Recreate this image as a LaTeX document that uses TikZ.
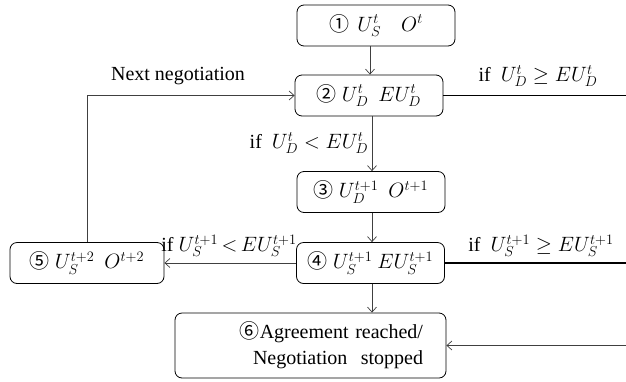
\documentclass[tikz,border=0pt]{standalone}
\usepackage{fontspec}
\setmainfont{Liberation Serif}
\newfontfamily\cjk{Noto Sans CJK SC}
\usetikzlibrary{arrows.meta}
\newcommand{\cn}[1]{{\cjk #1}}
\begin{document}
\begin{tikzpicture}[x=1pt,y=-1pt,
 every node/.style={font=\fontsize{20}{26}\selectfont},
 box/.style={draw, rounded corners=7pt, minimum width=148pt, minimum height=41pt, inner sep=0pt, line width=0.8pt},
 conn/.style={draw=black!75, line width=0.7pt},
 arr/.style={conn, -{Straight Barb[length=5pt,width=9pt]}},
 thick/.style={draw=black, line width=1.3pt},
 lab/.style={inner sep=0pt}]
\useasboundingbox (0,0) rectangle (626,381);
\node[box, minimum width=158pt] (b1) at (376,25.5) {\cn{①}\, $U_S^t\quad O^t$};
\node[box] (b2) at (369,95.5) {\cn{②} $U_D^t\ \ EU_D^t$};
\node[box] (b3) at (371,192) {\cn{③} $U_D^{t+1}\ \ O^{t+1}$};
\node[box] (b4) at (370.5,263) {\cn{④} $U_S^{t+1}\ EU_S^{t+1}$};
\node[box, minimum width=154pt] (b5) at (87,263) {\cn{⑤} $U_S^{t+2}\ \ O^{t+2}$};
\node[box, minimum width=271pt, minimum height=65pt, text width=225pt, inner xsep=23pt, align=right] (b6) at (310.5,345.5) {\cn{⑥}Agreement reached/\\Negotiation\ \ stopped};
\coordinate (r2) at (626,95.5);
\coordinate (r4) at (626,263);
\coordinate (r6) at (626,345.5);
\draw[arr] (b1.south -| 370,0) -- (b2.north -| 370,0);
\draw[arr] (b2.south -| 372,0) -- (b3.north -| 372,0);
\draw[arr] (b3.south -| 372,0) -- (b4.north -| 372,0);
\draw[arr] (b4.south -| 372,0) -- (b6.north -| 372,0);
\draw[arr] (b4.west) -- (b5.east);
\draw[arr] (b5.north) |- (b2.west);
\draw[thick] (b2.east) -- (r2);
\draw[thick] (b4.east) -- (r4);
\draw[arr] (r6) -- (b6.east);
\node[lab] (l1) at (178,76) {Next negotiation};
\node[lab] (l2) at (538,76) {if\ \ $U_D^t \geq EU_D^t$};
\node[lab] (l3) at (309,143) {if\ \ $U_D^t < EU_D^t$};
\node[lab] (l4) at (229,246) {if\ $U_S^{t+1}\mkern-2mu < \mkern-2mu EU_S^{t+1}$};
\node[lab] (l5) at (541,246) {if\ \ $U_S^{t+1} \geq EU_S^{t+1}$};
\end{tikzpicture}
\end{document}
